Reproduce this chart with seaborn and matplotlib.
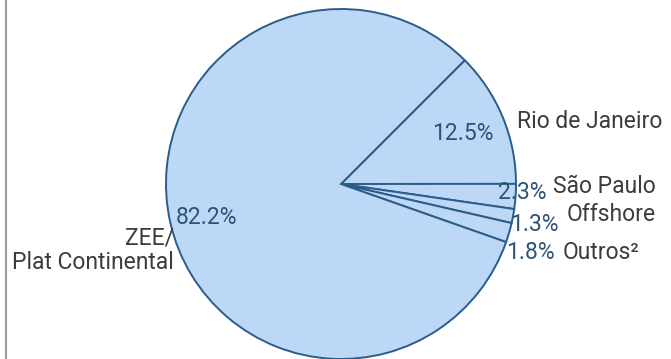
import matplotlib
matplotlib.use('Agg')
import matplotlib.pyplot as plt
import seaborn as sns
from matplotlib.lines import Line2D

# Dados
regioes = ['Rio de Janeiro', 'São Paulo', 'Offshore', 'Outros²', 'ZEE/\nPlat Continental']
percentuais = [12.5, 2.3, 1.3, 1.8, 82.2]
rotulos_pct = ['12.5%', '2.3%', '1.3%', '1.8%', '82.2%']

sns.set_theme(style="white")
plt.rcParams['font.family'] = ['Roboto', 'DejaVu Sans']

cor_fatia = '#bcd8f6'
cor_borda = '#2b5c8a'
cor_pct = '#2d5277'
cor_txt = '#3c3c3c'

fig = plt.figure(figsize=(6.71, 3.59), dpi=100)
ax = fig.add_axes([0, 0, 1, 1])

wedges, _ = ax.pie(percentuais, startangle=45, counterclock=False,
                   colors=[cor_fatia] * len(percentuais),
                   wedgeprops=dict(edgecolor=cor_borda, linewidth=1.4),
                   radius=1.0, center=(0, 0))

# posicoes dos textos (coordenadas dos dados, raio = 1)
pos_pct = [(0.697, 0.286), (1.034, -0.046), (1.103, -0.229), (1.08, -0.389), (-0.766, -0.189)]
pos_lbl = [(1.006, 0.36), (1.211, -0.017), (1.291, -0.177), (1.269, -0.389), (-0.954, -0.38)]
ha_lbl = ['left', 'left', 'left', 'left', 'right']

for txt, (x, y) in zip(rotulos_pct, pos_pct):
    ax.text(x, y, txt, ha='center', va='center', fontsize=16.5, color=cor_pct)

for txt, (x, y), ha in zip(regioes, pos_lbl, ha_lbl):
    ax.text(x, y, txt, ha=ha, va='center', fontsize=16.5, color=cor_txt,
            multialignment='right', linespacing=1.1)

ax.set_xlim(-341 / 175, 330 / 175)
ax.set_ylim(-175 / 175, 184 / 175)
ax.set_aspect('equal')
ax.axis('off')

fig.add_artist(Line2D([6 / 671, 6 / 671], [0, 1], color='#9a9a9a', linewidth=1.5,
                      transform=fig.transFigure))

fig.savefig('out.png', dpi=100)
